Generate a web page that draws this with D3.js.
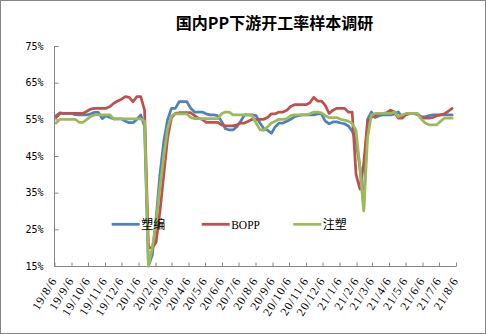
<!DOCTYPE html>
<html><head><meta charset="utf-8">
<script src="https://cdn.jsdelivr.net/npm/d3@7"></script>
<style>html,body{margin:0;padding:0;background:#fff;}svg{display:block;}</style>
</head><body>
<svg id="chart" width="486" height="334"></svg>
<script>
const title = "国内PP下游开工率样本调研";
const seriesNames = ["塑编", "BOPP", "注塑"];
const seriesColors = ["#4F81BD", "#C0504D", "#9BBB59"];
const firstWeek = "2019-08-09";
const tickLabels = ["19/8/6","19/9/6","19/10/6","19/11/6","19/12/6","20/1/6","20/2/6","20/3/6","20/4/6","20/5/6","20/6/6","20/7/6","20/8/6","20/9/6","20/10/6","20/11/6","20/12/6","21/1/6","21/2/6","21/3/6","21/4/6","21/5/6","21/6/6","21/7/6","21/8/6"];
const yTicks = [15, 25, 35, 45, 55, 65, 75];

const suBian = [56,56.8,56.6,56.6,56.6,56.3,56.2,56.2,56.2,56.5,
56.9,56.9,55.2,56,55.5,55.1,55.1,55.1,54.5,54.1,
54.1,55,56.2,53,15,18,28,40,49,55,
58,58,59.8,59.8,59.8,58,57,57,57,56.5,
56.2,56.2,56,54.5,52.5,52.1,52.1,53,54.5,56.2,
56.2,56.2,56,54,52.5,52,51.2,53,54,54,
54.5,55,55.7,56,56.2,56.2,56.2,56.2,56.5,56.5,
54.5,53.8,54.3,54.3,54,53.8,53.2,51.8,49,42,
31,55,57,55.5,56,56.2,56.2,56.2,56.5,57,
55.7,56.3,56.6,56.6,56.5,55.7,55.7,56,56.2,56.2,
56.2,56.2,56.2,56.2];
const bopp = [55.5,56.6,56.6,56.6,56.6,56.6,56.6,56.6,57.2,57.8,
58,58,58,58,58.5,59.4,60,60.5,61.2,61,
59.8,61.2,61.2,57.5,20,20,21.5,30,40,50,
55.5,56.6,56.8,56.8,56.8,56.8,56,55.3,55,54.2,
54.2,54.2,54.2,53.5,53.2,53.2,53.2,53.5,54,54,
54.5,55,55,55,55,55.5,56.5,56.5,57,57,
57.5,58.5,59,59,59,59,59.5,61,60,60,
58.8,56.6,57.5,58,58,58,57,57,40,36,
43,54.5,55.5,56,56.6,56.6,56.8,57.5,57,55.3,
55.3,56.3,56.6,56.6,56.3,55.5,55.3,55.3,55.5,56,
56.2,56.5,57.2,58];
const zhuSu = [54,55,55,55,55,55,54.2,54.2,55,55.8,
56.2,56.2,56.2,56.2,56.2,55.1,55.1,55.1,55.1,55.1,
55.1,55.1,55.1,54.5,15,20,27,36.5,45,52.5,
56,56.5,56.5,56.5,56.5,55.5,55.2,55.2,55.2,55.2,
55.2,55.2,55.2,56.5,57,57,56.2,56.2,56.2,56.2,
56.2,56,54,52.2,52,53,54,54.5,55,55,
55.2,56,56.2,56.2,56.2,56.2,56.5,57,57,56.8,
56,55.5,55.5,55.5,55,54.8,54.5,53.9,52,42,
30,50,56.2,56.6,56.6,56.6,56.6,56.6,57,55.7,
56.2,56.6,56.6,56.6,56.6,55,54,53.5,53.5,53.5,
54.5,55.3,55.3,55.3];
const seriesValues = [suBian, bopp, zhuSu];

const parseLabel = s => { const p = s.split("/").map(Number); return new Date(2000 + p[0], p[1] - 1, p[2]); };
const tickDates = tickLabels.map(parseLabel);
const start = d3.timeParse("%Y-%m-%d")(firstWeek);
const dates = suBian.map((_, i) => d3.timeDay.offset(start, 7 * i));

const svg = d3.select("#chart");
svg.append("rect").attr("x", 0.5).attr("y", 0.5).attr("width", 485).attr("height", 333)
  .attr("fill", "#fff").attr("stroke", "#868686").attr("stroke-width", 1);

svg.append("text").attr("x", 274.5).attr("y", 29).attr("text-anchor", "middle")
  .attr("font-family", "'Noto Sans CJK SC', sans-serif").attr("font-weight", "bold")
  .attr("font-size", 16).attr("fill", "#000").text(title);

const x = d3.scaleTime().domain([tickDates[0], tickDates[tickDates.length - 1]]).range([54.5, 456]);
const y = d3.scaleLinear().domain([15, 75]).range([266, 46]);

// Y axis
const yAxis = d3.axisRight(y).tickValues(yTicks).tickSize(4).tickFormat(d => d + "%");
const gy = svg.append("g").attr("transform", "translate(54.5,0)").call(yAxis);
gy.select(".domain").attr("stroke", "#868686").attr("d", "M0,46V266");
gy.selectAll(".tick line").attr("stroke", "#868686");
gy.selectAll(".tick text").attr("x", -11).attr("text-anchor", "end")
  .attr("font-family", "'DejaVu Sans Mono', monospace").attr("font-size", 10).attr("fill", "#000");

// X axis
const xAxis = d3.axisTop(x).tickValues(tickDates).tickSize(4).tickFormat((d, i) => tickLabels[i]);
const gx = svg.append("g").attr("transform", "translate(0,266.5)").call(xAxis);
gx.select(".domain").attr("stroke", "#868686").attr("d", "M54.5,0H456");
gx.selectAll(".tick line").attr("stroke", "#868686");
gx.selectAll(".tick text").attr("y", 0).attr("dy", 0)
  .attr("text-anchor", "end")
  .attr("transform", "translate(2.5,14) rotate(-58)")
  .attr("letter-spacing", 0.9)
  .attr("font-family", "'Liberation Serif', serif").attr("font-size", 12).attr("fill", "#000");

// Lines
const line = d3.line().x((d, i) => x(dates[i])).y(d => y(d));
seriesValues.forEach((vals, s) => {
  svg.append("path").datum(vals).attr("d", line).attr("fill", "none")
    .attr("stroke", seriesColors[s]).attr("stroke-width", 2.75)
    .attr("stroke-linejoin", "round").attr("stroke-linecap", "round");
});

// Legend
const legendX = [111.7, 201.7, 293.3];
const lg = svg.append("g");
seriesNames.forEach((n, i) => {
  lg.append("line").attr("x1", legendX[i]).attr("x2", legendX[i] + 28).attr("y1", 224.3).attr("y2", 224.3)
    .attr("stroke", seriesColors[i]).attr("stroke-width", 2.75);
  lg.append("text").attr("x", legendX[i] + 29.5).attr("y", 228.5)
    .attr("font-family", i === 1 ? "'Liberation Serif', serif" : "'Noto Sans CJK SC', sans-serif")
    .attr("font-size", i === 1 ? 11.5 : 12).attr("fill", "#000").text(n);
});
</script>
</body></html>
